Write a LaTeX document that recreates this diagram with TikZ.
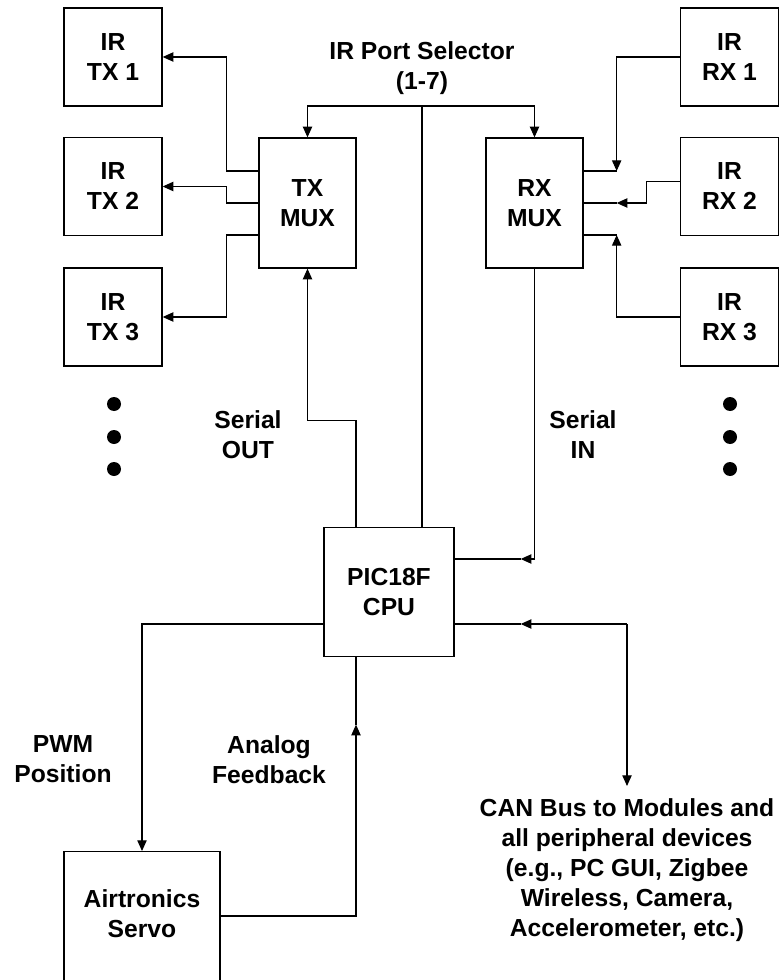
\documentclass[tikz,border=0pt]{standalone}
\usepackage{fontspec}
\setmainfont{Liberation Sans}
\usetikzlibrary{arrows.meta,positioning,calc}
\definecolor{bdLine}{HTML}{000000}
\tikzset{
  bd/.style={x=0.75pt, y=-0.75pt, font=\fontsize{18.5}{22.5}\selectfont\bfseries, line width=.8pt, >={Triangle[length=8pt, width=7pt]}},
  box/.style={draw=bdLine, line width=1pt, align=center, inner sep=0pt},
  port/.style={box, minimum width=73.5pt, minimum height=73.5pt},
  mux/.style={box, minimum width=72.75pt, minimum height=97.5pt},
  cpubox/.style={box, minimum width=97.5pt, minimum height=96.75pt},
  flow/.style={->, draw=bdLine},
  wire/.style={-, draw=bdLine},
  lbl/.style={align=center, inner sep=0pt},
  dot/.style={fill=bdLine},
}
\begin{document}
\begin{tikzpicture}[bd]
\useasboundingbox (0,0) rectangle (782,980);
% ports
\foreach \i/\y in {1/57,2/186.5,3/317} {
  \node[port] (tx\i) at (113,\y) {IR\\TX \i};
  \node[port] (rx\i) at (729.5,\y) {IR\\RX \i};
}
\node[mux] (txmux) at (307.5,203) {TX\\MUX};
\node[mux] (rxmux) at (534.5,203) {RX\\MUX};
\node[cpubox] (cpu) at (389,592) {PIC18F\\CPU};
\node[box, minimum width=117pt, inner ysep=28.5pt, text depth=40pt, anchor=north] (servo) at (142,851) {Airtronics\\Servo};

% labels
\node[lbl] (sellbl) at (422,68.5) {IR Port Selector\\(1-7)};
\node[lbl] (outlbl) at (248,434.5) {Serial\\OUT};
\node[lbl] (inlbl) at (583,434.5) {Serial\\IN};
\node[lbl] (pwmlbl) at (63,759) {PWM\\Position};
\node[lbl] (fblbl) at (269,760) {Analog\\Feedback};
\node[lbl, anchor=north, inner ysep=9pt] (canlbl) at (627,786) {CAN Bus to Modules and\\all peripheral devices\\(e.g., PC GUI, Zigbee\\Wireless, Camera,\\Accelerometer, etc.)};

\foreach \y in {404,437,469} {
  \fill[dot] (114,\y) circle[radius=5.25pt];
  \fill[dot] (730,\y) circle[radius=5.25pt];
}

% port selector
\coordinate (sel) at (422,106);
\draw[wire] (cpu.north -| sel) -- (sel);
\draw[flow] (sel) -| (txmux.north);
\draw[flow] (sel) -| (rxmux.north);

% tx side
\foreach \i/\s in {1/24pt,2/0pt,3/-24pt}
  \draw[flow] ([yshift=\s]txmux.west) -- ++(-32,0) |- (tx\i.east);

% rx side
\foreach \i/\s in {1/24pt,2/0pt,3/-24pt} {
  \coordinate (j\i) at ([xshift=24.75pt, yshift=\s]rxmux.east);
  \draw[wire] ([yshift=\s]rxmux.east) -- (j\i);
}
\draw[flow] (rx1.west) -| (j1);
\draw[flow] ([yshift=4pt]rx2.west) -- ++(-33,0) |- (j2);
\draw[flow] (rx3.west) -| (j3);

% serial out / in
\draw[flow] ([xshift=-24.75pt]cpu.north) -- ++(0,-106) -| (txmux.south);
\coordinate (sin) at ([xshift=49.5pt, yshift=24.75pt]cpu.east);
\draw[flow] (rxmux.south) |- (sin);
\draw[wire] (sin) -- (cpu.east |- sin);

% can bus
\coordinate (canin) at ([xshift=49.5pt, yshift=-24pt]cpu.east);
\coordinate (can) at (canlbl.north |- canin);
\draw[wire] (cpu.east |- canin) -- (canin);
\draw[flow] (can) -- (canin);
\draw[flow] (can) -- (canlbl.north);

% servo
\draw[flow] ([yshift=-24pt]cpu.west) -| (servo.north);
\coordinate (fb) at ([xshift=-24.75pt, yshift=-50.6pt]cpu.south);
\draw[flow] ([yshift=-48.75pt]servo.north east) -| (fb);
\draw[wire] (fb) -- (cpu.south -| fb);
\end{tikzpicture}
\end{document}
